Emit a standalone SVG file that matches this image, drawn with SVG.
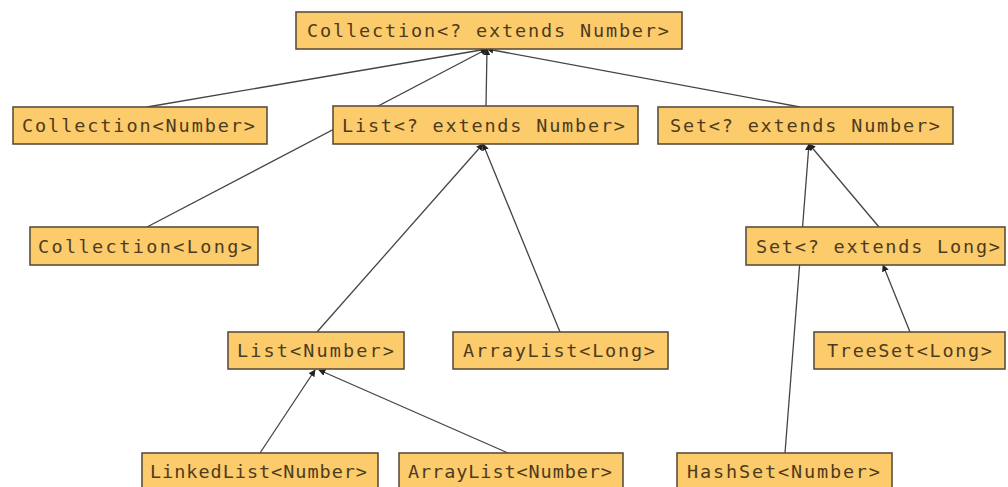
<svg xmlns="http://www.w3.org/2000/svg" width="1008" height="487" viewBox="0 0 1008 487">
  <style>
    .box { fill: #FCCB6B; stroke: #5b4f3c; stroke-width: 1.6; }
    .lbl { font-family: "DejaVu Sans Mono", "Liberation Mono", monospace; font-size: 18.5px; fill: #4d3b1f; }
    .edge { fill: none; stroke: #444; stroke-width: 1.3; marker-end: url(#tip); }
  </style>
  <defs>
    <marker id="tip" viewBox="0 0 10 10" refX="9" refY="5" markerWidth="7" markerHeight="7" markerUnits="userSpaceOnUse" orient="auto">
      <path d="M0,0 L10,5 L0,10 z" fill="#222"/>
    </marker>
  </defs>
  <rect width="1008" height="487" fill="#fff"/>

  <!-- inheritance edges, child top -> parent bottom -->
  <g id="connectors">
    <path class="edge" d="M147,107 L487,49"/>
    <path class="edge" d="M147,227 L487,49"/>
    <path class="edge" d="M486,106 L487,49"/>
    <path class="edge" d="M800,107 L487,49"/>
    <path class="edge" d="M317,332 L483,144"/>
    <path class="edge" d="M560,332 L483,144"/>
    <path class="edge" d="M785,453 L809,144"/>
    <path class="edge" d="M879,227 L809,144"/>
    <path class="edge" d="M910,332 L883,265"/>
    <path class="edge" d="M260,453 L315,370"/>
    <path class="edge" d="M508,453 L319,370"/>
  </g>

  <g id="collection-ext-number">
    <rect class="box" x="296" y="12" width="386" height="37"/>
    <text class="lbl" x="307" y="37" textLength="362" lengthAdjust="spacing">Collection&lt;? extends Number&gt;</text>
  </g>
  <g id="collection-number">
    <rect class="box" x="13" y="107" width="254" height="37"/>
    <text class="lbl" x="22" y="132" textLength="233" lengthAdjust="spacing">Collection&lt;Number&gt;</text>
  </g>
  <g id="list-ext-number">
    <rect class="box" x="333" y="106" width="305" height="38"/>
    <text class="lbl" x="342" y="132" textLength="283" lengthAdjust="spacing">List&lt;? extends Number&gt;</text>
  </g>
  <g id="set-ext-number">
    <rect class="box" x="658" y="107" width="295" height="37"/>
    <text class="lbl" x="670" y="132" textLength="270" lengthAdjust="spacing">Set&lt;? extends Number&gt;</text>
  </g>
  <g id="collection-long">
    <rect class="box" x="30" y="227" width="228" height="38"/>
    <text class="lbl" x="38" y="253" textLength="214" lengthAdjust="spacing">Collection&lt;Long&gt;</text>
  </g>
  <g id="set-ext-long">
    <rect class="box" x="746" y="227" width="259" height="38"/>
    <text class="lbl" x="756" y="253" textLength="244" lengthAdjust="spacing">Set&lt;? extends Long&gt;</text>
  </g>
  <g id="list-number">
    <rect class="box" x="228" y="332" width="176" height="37"/>
    <text class="lbl" x="237" y="357" textLength="157" lengthAdjust="spacing">List&lt;Number&gt;</text>
  </g>
  <g id="arraylist-long">
    <rect class="box" x="453" y="332" width="215" height="37"/>
    <text class="lbl" x="463" y="357" textLength="192" lengthAdjust="spacing">ArrayList&lt;Long&gt;</text>
  </g>
  <g id="treeset-long">
    <rect class="box" x="814" y="332" width="191" height="37"/>
    <text class="lbl" x="827" y="357" textLength="165" lengthAdjust="spacing">TreeSet&lt;Long&gt;</text>
  </g>
  <g id="linkedlist-number">
    <rect class="box" x="142" y="453" width="236" height="38"/>
    <text class="lbl" x="150" y="478" textLength="217" lengthAdjust="spacing">LinkedList&lt;Number&gt;</text>
  </g>
  <g id="arraylist-number">
    <rect class="box" x="399" y="453" width="224" height="38"/>
    <text class="lbl" x="408" y="478" textLength="204" lengthAdjust="spacing">ArrayList&lt;Number&gt;</text>
  </g>
  <g id="hashset-number">
    <rect class="box" x="677" y="453" width="215" height="38"/>
    <text class="lbl" x="687" y="478" textLength="193" lengthAdjust="spacing">HashSet&lt;Number&gt;</text>
  </g>
</svg>
